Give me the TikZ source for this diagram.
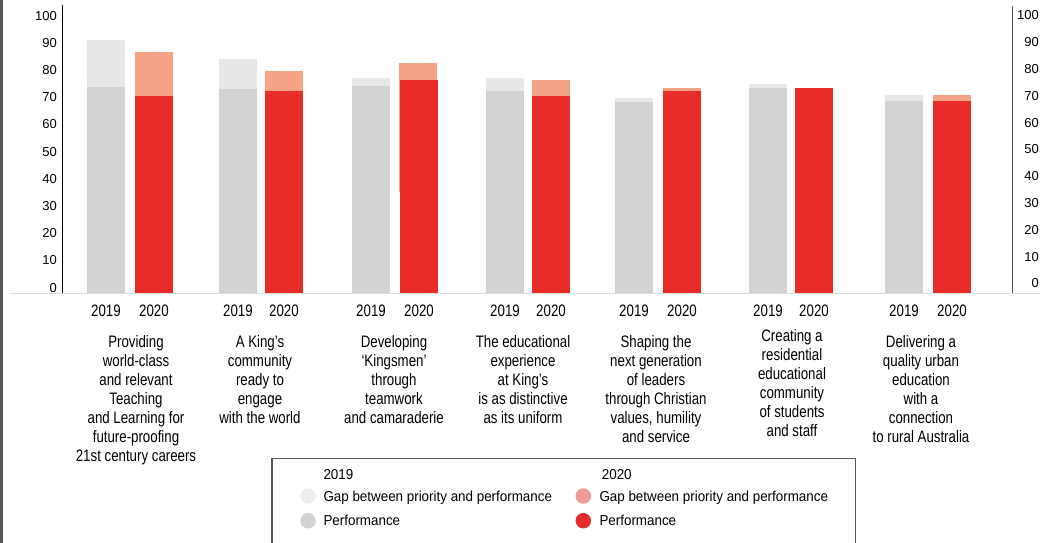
\documentclass[tikz,border=0pt]{standalone}
\usepackage{fontspec}
\setmainfont{Liberation Sans}
\newfontfamily\condfont{Liberation Sans}[FakeStretch=0.8]
\newfontfamily\legfont{Liberation Sans}[FakeStretch=0.93]
\definecolor{gapA}{HTML}{E6E7E8}
\definecolor{perfA}{HTML}{D1D2D4}
\definecolor{gapB}{HTML}{F4A387}
\definecolor{perfB}{HTML}{E82C2A}
\definecolor{leggapA}{HTML}{EEEEEF}
\definecolor{leggapB}{HTML}{F29A9A}
\definecolor{baseln}{HTML}{DCDDDF}
\definecolor{frameg}{HTML}{58595B}
\begin{document}
\begin{tikzpicture}[x=1pt,y=-1pt,
  catlabel/.style={font=\condfont\fontsize{16.6}{19}\selectfont, align=center, anchor=north, inner sep=0pt},
  yearlabel/.style={font=\condfont\fontsize{16.6}{19}\selectfont, anchor=base, inner sep=0pt},
  ticklabel/.style={font=\fontsize{13}{15}\selectfont, anchor=base east, inner sep=0pt},
  legtext/.style={font=\legfont\fontsize{14.4}{17}\selectfont, anchor=base west, inner sep=0pt},
  legdot/.style={circle, inner sep=0pt, minimum size=15.5pt},
  gap19/.style={fill=gapA},
  perf19/.style={fill=perfA},
  gap20/.style={fill=gapB},
  perf20/.style={fill=perfB}]
\useasboundingbox (0,0) rectangle (1062,543);
\clip (0,0) rectangle (1062,543);
% left border
\draw[line width=2.6pt, color=frameg] (1.3,0) -- (1.3,543);
% baseline
\draw[line width=1.5pt, color=baseln] (10,293.6) -- (1040,293.6);
% axes
\draw[line width=1.2pt, color=black] (62.3,5) -- (62.3,293);
\draw[line width=1.2pt, color=frameg] (1012.7,6) -- (1012.7,293);
% tick labels
\foreach \v in {0,10,...,100} {
  \node[ticklabel] (tl\v) at (57,{15.5+2.72*(100-\v)+4.65}) {\v};
  \node[ticklabel] (tr\v) at (1039,{15.3+2.68*(100-\v)+4.65}) {\v};
}
% 2019 bars
\foreach \xa/\gt/\pt [count=\i] in {87/40/87, 219/59/89, 352/78/86, 486/78/91, 615/98/102, 749/84/88, 885/95/101} {
  \fill[gap19] (\xa,\gt) rectangle (\xa+38,292.8);
  \fill[perf19] (\xa,\pt) rectangle (\xa+38,292.8);
  \node[yearlabel] (ya\i) at (\xa+19,316) {2019};
}
% 2020 bars
\foreach \xb/\gt/\pt/\i in {135/52/96/1, 265/71/91/2, 532/80/96/4, 663/88/91/5, 795/88/88/6, 933/95/101/7} {
  \fill[gap20] (\xb,\gt) rectangle (\xb+38,292.8);
  \fill[perf20] (\xb,\pt) rectangle (\xb+38,292.8);
  \node[yearlabel] (yb\i) at (\xb+19,316) {2020};
}
\fill[gap20] (399,63) rectangle (437,192);
\fill[perf20] (400,80) rectangle (438,292.8);
\node[yearlabel] (yb3) at (419,316) {2020};
% category labels
\node[catlabel] (c1) at (136,335) {Providing\\world-class\\and relevant\\Teaching\\and Learning for\\future-proofing\\21st century careers};
\node[catlabel] (c2) at (260,335) {A King’s\\community\\ready to\\engage\\with the world};
\node[catlabel] (c3) at (394,335) {Developing\\‘Kingsmen’\\through\\teamwork\\and camaraderie};
\node[catlabel] (c4) at (523,335) {The educational\\experience\\at King’s\\is as distinctive\\as its uniform};
\node[catlabel] (c5) at (656,335) {Shaping the\\next generation\\of leaders\\through Christian\\values, humility\\and service};
\node[catlabel] (c6) at (792,329) {Creating a\\residential\\educational\\community\\of students\\and staff};
\node[catlabel] (c7) at (921,335) {Delivering a\\quality urban\\education\\with a\\connection\\to rural Australia};
% legend
\draw[line width=1.2pt, color=frameg] (272,560) -- (272,458.3) -- (855.3,458.3) -- (855.3,560);
\node[legtext] (lyA) at (323.3,479) {2019};
\node[legdot, fill=leggapA] (ldA1) at (308,496) {};
\node[legtext] (ltA1) at (323.3,501.5) {Gap between priority and performance};
\node[legdot, fill=perfA] (ldA2) at (308,520.7) {};
\node[legtext] (ltA2) at (323.3,525.8) {Performance};
\node[legtext] (lyB) at (601.7,479) {2020};
\node[legdot, fill=leggapB] (ldB1) at (583.3,496) {};
\node[legtext] (ltB1) at (599.3,501.5) {Gap between priority and performance};
\node[legdot, fill=perfB] (ldB2) at (583.3,520.7) {};
\node[legtext] (ltB2) at (599.3,525.8) {Performance};
\end{tikzpicture}
\end{document}
